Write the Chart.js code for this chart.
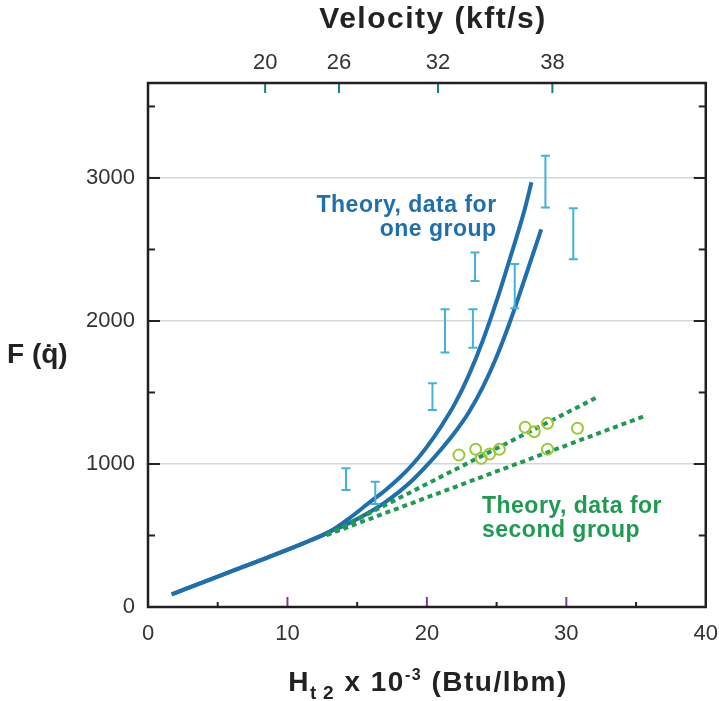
<!DOCTYPE html>
<html>
<head>
<meta charset="utf-8">
<script src="https://cdn.jsdelivr.net/npm/chart.js@4.4.1/dist/chart.umd.min.js"></script>
<style>
  html, body { margin: 0; padding: 0; background: #fff; }
</style>
</head>
<body>
<canvas id="chart" width="719" height="701"></canvas>
<script>
// data: H (x 10^-3 Btu/lbm) vs F(q)
const curveAH = [1.7, 5, 8, 11, 13, 14.5, 16, 17, 18, 19, 20, 21, 22, 23, 24, 25, 26, 27, 27.5];
const curveAF = [89, 213, 325, 440, 525, 625, 740, 815, 900, 1000, 1120, 1260, 1420, 1620, 1860, 2140, 2450, 2775, 2970];
const curveBH = [1.7, 5, 8, 11, 13, 14.5, 16, 17, 18, 19, 20, 21, 22, 23, 24, 25, 26, 27, 28.2];
const curveBF = [89, 213, 325, 440, 525, 590, 670, 732, 805, 890, 990, 1100, 1220, 1360, 1535, 1750, 2005, 2290, 2640];

const dotAH = [12.8, 32.3];
const dotAF = [503, 1471];
const dotBH = [12.8, 35.5];
const dotBF = [503, 1331];

const errH    = [14.2, 16.3, 20.4, 21.3, 23.3, 23.45, 26.3, 28.5, 30.5];
const errLow  = [818, 720, 1378, 1780, 1813, 2280, 2089, 2793, 2432];
const errHigh = [970, 875, 1564, 2082, 2082, 2478, 2399, 3156, 2788];

const circH = [22.3, 23.5, 23.9, 24.5, 25.2, 27.05, 27.7, 28.65, 28.65, 30.8];
const circF = [1063, 1103, 1040, 1070, 1103, 1257, 1226, 1285, 1103, 1250];

// axis ticks
const yTicks = [0, 500, 1000, 1500, 2000, 2500, 3000, 3500];
const velLabels = [20, 26, 32, 38];
const velPosH   = [8.4, 13.7, 20.8, 29.0];   // where the velocity ticks sit on the H scale

const blueText  = ['Theory, data for', 'one group'];
const greenText = ['Theory, data for', 'second group'];

const FONT = "'Liberation Sans', Arial, Helvetica, sans-serif";
const BLUE = '#1f6eae', LIGHTBLUE = '#45b0dc', GREEN = '#1e9a52', LIME = '#9cc83a';

const pts = (xs, ys) => xs.map((x, i) => ({ x: x, y: ys[i] }));

const errPts = [];
errH.forEach((h, i) => {
  errPts.push({ x: h, y: errLow[i] }, { x: h, y: errHigh[i] }, { x: h, y: null });
});

// frame, inward ticks and the custom texts
const decor = {
  id: 'decor',
  afterDraw(chart) {
    const ctx = chart.ctx, ca = chart.chartArea;
    const sx = chart.scales.x, sy = chart.scales.y, st = chart.scales.xTop;
    const line = (x1, y1, x2, y2) => { ctx.beginPath(); ctx.moveTo(x1, y1); ctx.lineTo(x2, y2); ctx.stroke(); };
    ctx.save();
    ctx.lineWidth = 2;
    sx.ticks.forEach(t => {
      if (t.value <= 0 || t.value >= 40) return;
      const px = sx.getPixelForValue(t.value), major = t.value % 10 === 0;
      ctx.strokeStyle = major ? '#7d3c98' : '#222';
      line(px, ca.bottom, px, ca.bottom - (major ? 10 : 5));
    });
    sy.ticks.forEach(t => {
      if (t.value <= 0) return;
      const py = sy.getPixelForValue(t.value), len = t.value % 1000 === 0 ? 12 : 7;
      ctx.strokeStyle = '#222';
      line(ca.left, py, ca.left + len, py);
      line(ca.right, py, ca.right - len, py);
    });
    st.ticks.forEach(t => {
      const px = st.getPixelForValue(t.value);
      ctx.strokeStyle = '#167f86';
      line(px, ca.top, px, ca.top + 10);
    });
    ctx.lineWidth = 2.5;
    ctx.strokeStyle = '#231f20';
    ctx.strokeRect(ca.left, ca.top, ca.right - ca.left, ca.bottom - ca.top);

    // top title
    ctx.fillStyle = '#222';
    ctx.textBaseline = 'alphabetic';
    ctx.font = 'bold 30px ' + FONT;
    ctx.letterSpacing = '1.5px';
    ctx.textAlign = 'center';
    ctx.fillText('Velocity (kft/s)', 433, 28);

    // y title
    ctx.letterSpacing = '0px';
    ctx.font = 'bold 28px ' + FONT;
    ctx.textAlign = 'left';
    ctx.fillText('F (q\u0307)', 7, 363);

    // x title with sub/superscript
    ctx.letterSpacing = '1.5px';
    const parts = [
      { t: 'H', s: 28, dy: 0 },
      { t: 't\u20092', s: 19, dy: 8 },
      { t: ' x 10', s: 28, dy: 0 },
      { t: '-3', s: 16, dy: -11 },
      { t: ' (Btu/lbm)', s: 28, dy: 0 }
    ];
    let w = 0;
    parts.forEach(p => { ctx.font = 'bold ' + p.s + 'px ' + FONT; p.w = ctx.measureText(p.t).width; w += p.w; });
    let x = 428 - w / 2;
    parts.forEach(p => {
      ctx.font = 'bold ' + p.s + 'px ' + FONT;
      ctx.fillText(p.t, x, 691 + p.dy);
      x += p.w;
    });

    // annotations anchored in data units
    ctx.letterSpacing = '0.5px';
    ctx.font = 'bold 23px ' + FONT;
    ctx.fillStyle = BLUE;
    ctx.textAlign = 'right';
    const bx = sx.getPixelForValue(25.0), by = sy.getPixelForValue(2765);
    blueText.forEach((s, i) => ctx.fillText(s, bx, by + i * 24));
    ctx.fillStyle = GREEN;
    ctx.textAlign = 'left';
    const gx = sx.getPixelForValue(23.95), gy = sy.getPixelForValue(656);
    greenText.forEach((s, i) => ctx.fillText(s, gx, gy + i * 24));
    ctx.restore();
  }
};

const tickFont = { family: FONT, size: 22 };

new Chart(document.getElementById('chart'), {
  type: 'line',
  data: {
    datasets: [
      { data: pts(circH, circF), showLine: false, pointStyle: 'circle', pointRadius: 5.5,
        pointBorderWidth: 2, pointBorderColor: LIME, pointBackgroundColor: 'rgba(0,0,0,0)' },
      { data: pts(dotAH, dotAF), borderColor: GREEN, borderWidth: 4, borderDash: [5, 4], pointRadius: 0 },
      { data: pts(dotBH, dotBF), borderColor: GREEN, borderWidth: 4, borderDash: [5, 4], pointRadius: 0 },
      { data: errPts, borderColor: LIGHTBLUE, borderWidth: 2, spanGaps: false, pointStyle: 'line',
        pointRadius: 4.5, pointBorderWidth: 2, pointBorderColor: LIGHTBLUE },
      { data: pts(curveAH, curveAF), borderColor: BLUE, borderWidth: 4, pointRadius: 0, cubicInterpolationMode: 'monotone' },
      { data: pts(curveBH, curveBF), borderColor: BLUE, borderWidth: 4, pointRadius: 0, cubicInterpolationMode: 'monotone' }
    ]
  },
  options: {
    responsive: false,
    animation: false,
    layout: { padding: 0 },
    plugins: { legend: { display: false }, tooltip: { enabled: false } },
    scales: {
      x: {
        type: 'linear', position: 'bottom', min: 0, max: 40,
        afterFit: s => { s.height = 94; },
        ticks: { stepSize: 5, autoSkip: false, maxRotation: 0, padding: 1, font: tickFont, color: '#333',
                 callback: v => v % 10 === 0 ? v : '' },
        grid: { display: false, drawTicks: true, tickLength: 13 },
        border: { display: false }
      },
      xTop: {
        type: 'linear', position: 'top', min: 0, max: 40,
        afterFit: s => { s.height = 83; },
        afterBuildTicks: s => { s.ticks = velPosH.map(v => ({ value: v })); },
        ticks: { autoSkip: false, maxRotation: 0, padding: 7, font: tickFont, color: '#333',
                 callback: (v, i) => velLabels[i] },
        grid: { display: false, drawTicks: false },
        border: { display: false }
      },
      y: {
        min: 0, max: 3664,
        afterFit: s => { s.width = 148; },
        afterBuildTicks: s => { s.ticks = yTicks.map(v => ({ value: v })); },
        ticks: { autoSkip: false, padding: 13, font: tickFont, color: '#333',
                 callback: v => v % 1000 === 0 ? v : '' },
        grid: { drawTicks: false, lineWidth: 1.5,
                color: c => (c.tick && c.tick.value > 0 && c.tick.value % 1000 === 0) ? '#d6d6d6' : 'rgba(0,0,0,0)' },
        border: { display: false }
      }
    }
  },
  plugins: [decor]
});
</script>
</body>
</html>
